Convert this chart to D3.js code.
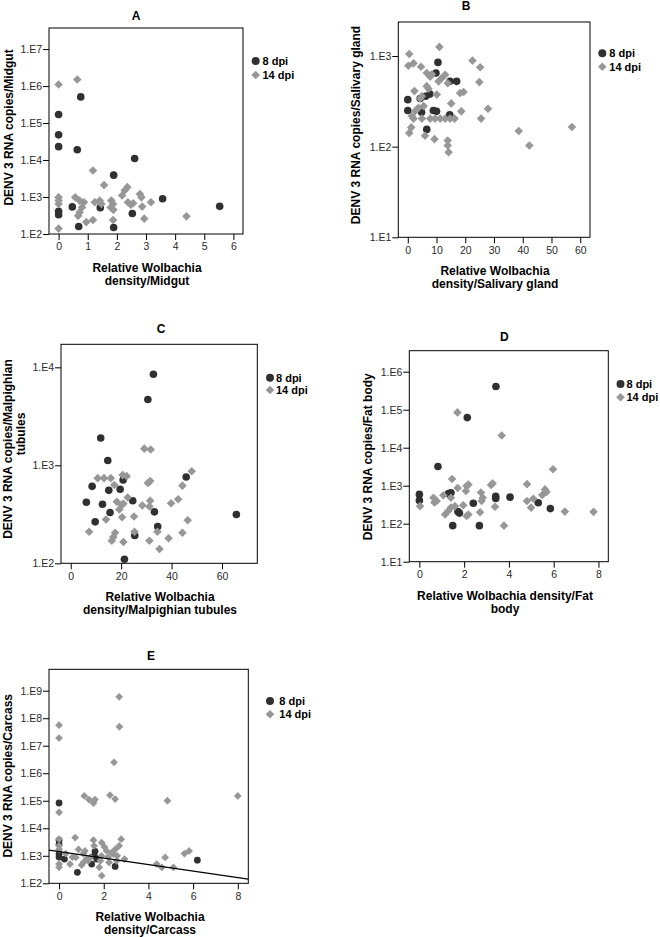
<!DOCTYPE html>
<html><head><meta charset="utf-8">
<script src="https://cdn.jsdelivr.net/npm/d3@7"></script>
<style>
body{margin:0;background:#fff}
svg{display:block}
text{font-family:'Liberation Sans',Arial,sans-serif}
</style>
</head><body>
<svg id="chart" width="660" height="937"></svg>
<script>
// ---------------- DATA ----------------
const seriesNames = ["8 dpi", "14 dpi"];

// Panel A – Midgut: [relative Wolbachia density, DENV3 RNA copies]
const A_8dpi = [[0,1.7e5],[0.76,5.1e5],[0,4.8e4],[0,2.3e4],[0.64,1.9e4],[2.61,1.1e4],[1.89,3900],[3.57,900],
  [5.53,560],[0.47,540],[1.43,515],[0,410],[0,330],[2.53,360],[0.69,160],[1.89,150]];
const A_14dpi = [[0,1.1e6],[0.64,1.5e6],[1.18,5200],[1.56,2100],[0,980],[0,800],[0,650],[0,140],[0.57,980],
  [0.72,800],[0.87,720],[0.80,520],[0.72,390],[0.67,310],[0.95,210],[1.18,240],[1.24,720],[1.41,800],[1.47,650],
  [1.81,800],[1.87,650],[1.79,520],[2.27,1500],[2.36,1850],[2.18,1100],[2.38,720],[2.48,620],[2.56,680],
  [2.79,1200],[2.84,980],[2.87,550],[3.17,720],[2.94,260],[1.87,240],[4.39,300],[1.88,450]];
const A_xTicks = [0,1,2,3,4,5,6];
const A_yTicks = [1e2,1e3,1e4,1e5,1e6,1e7];

// Panel B – Salivary gland
const B_8dpi = [[10.5,850],[9.8,650],[17,525],[14.7,525],[0,330],[0,250],[4.3,340],[7.7,380],[4.8,240],
  [8.9,250],[10,245],[6.6,155],[14.6,225],[6.2,360]];
const B_14dpi = [[11.0,1260],[0.5,1050],[0.2,780],[2.0,830],[4.6,760],[22.5,890],[25.2,750],[6.6,650],[7.8,590],
  [8.4,630],[13.0,620],[11.8,570],[10.7,525],[13.9,500],[24.9,515],[2.3,410],[6.6,465],[7.2,435],[10.1,375],
  [18.2,390],[19.4,400],[4.9,360],[4.3,340],[15.1,300],[18.6,245],[27.9,262],[25.5,204],[1.4,218],[2.6,247],
  [3.7,268],[5.5,280],[2.0,204],[4.9,204],[7.8,204],[9.5,204],[11.3,204],[13.0,204],[14.7,204],[16.3,204],
  [1.2,163],[0.5,141],[6.0,132],[9.3,121],[13.9,117],[13.9,103],[14.2,87],[38.6,149],[42.3,103],[57.1,165]];
const B_xTicks = [0,10,20,30,40,50,60];
const B_yTicks = [1e1,1e2,1e3];

// Panel C – Malpighian tubules
const C_8dpi = [[32.8,8500],[30.6,4700],[11.9,1900],[14.7,1120],[20.8,710],[45.8,760],[8.5,610],[15.1,555],
  [19.6,570],[6.2,420],[12.6,400],[24.6,435],[15.6,330],[33.2,335],[9.7,265],[65.7,315],[34.5,237],[25.4,192],[21.3,110]];
const C_14dpi = [[29.2,1480],[31.7,1450],[10.7,740],[13.2,740],[15.9,740],[20.6,795],[22.2,775],[17.3,630],
  [30.6,660],[31.5,690],[48,870],[44.3,620],[22.6,470],[18.3,425],[20.2,395],[19.3,355],[20.9,405],[28.4,390],
  [31.5,435],[31.2,380],[39.8,410],[42.6,450],[14,280],[20.4,295],[25.1,300],[7.3,210],[17.6,205],[16.9,185],
  [16.3,170],[20.9,165],[25.3,210],[31.2,170],[34.4,210],[38.8,180],[35.2,140],[44.3,205],[46.4,275]];
const C_xTicks = [0,20,40,60];
const C_yTicks = [1e2,1e3,1e4];

// Panel D – Fat body
const D_8dpi = [[3.42,4.1e5],[2.14,6.2e4],[0.83,3200],[0,590],[0,410],[1.41,650],[1.30,620],[3.41,530],[3.41,460],
  [4.05,500],[2.41,345],[5.31,355],[5.85,250],[1.79,190],[1.72,210],[1.49,89],[2.68,89]];
const D_14dpi = [[1.70,8.5e4],[3.68,2.1e4],[5.97,2700],[1.46,1500],[1.71,870],[2.11,980],[2.19,1070],[3.27,1150],
  [3.20,1040],[4.81,1100],[5.61,800],[5.68,680],[5.49,570],[2.75,660],[2.83,480],[2.08,725],[0.63,480],[0.77,395],
  [0.67,360],[1.07,560],[1.41,480],[0.03,290],[2.78,395],[1.59,290],[1.96,305],[1.41,265],[1.15,175],[1.29,215],
  [2.19,175],[2.11,160],[2.71,200],[3.38,280],[4.81,395],[5.09,455],[4.99,265],[6.50,208],[7.78,205],[3.78,89]];
const D_xTicks = [0,2,4,6,8];
const D_yTicks = [1e1,1e2,1e3,1e4,1e5,1e6];

// Panel E – Carcass
const E_8dpi = [[0,8.3e4],[0,3700],[0,2600],[0,1150],[0,900],[0.24,760],[0.82,250],[1.61,1450],[1.69,760],
  [1.46,500],[1.58,1000],[2.51,410],[6.19,690]];
const E_14dpi = [[2.69,6e8],[0,5.6e7],[2.70,4.9e7],[0,1.9e7],[2.46,2.5e6],[1.13,1.5e5],[1.34,1.1e5],[1.54,8.3e4],
  [1.61,1.1e5],[2.28,1.6e5],[2.51,1.15e5],[4.85,1.0e5],[8.0,1.5e5],[0,3.8e4],[0,4000],[0,2300],[0,1700],[0,500],
  [0,380],[0.72,4600],[0.49,500],[0.87,1700],[0.75,870],[1.09,1200],[1.16,1500],[1.54,3700],[1.57,2300],[1.31,660],
  [1.09,575],[1.91,3000],[2.03,2100],[2.13,1500],[2.36,1300],[1.9,1000],[1.85,660],[1.8,380],[1.91,190],[2.78,4000],
  [2.69,2300],[2.51,1700],[2.43,1150],[2.24,575],[2.58,660],[2.93,760],[4.75,870],[4.37,500],[4.6,380],[5.12,380],
  [5.61,1200],[5.82,1500],[1.01,460],[0.3,1200],[0.6,900],[1.4,900],[2.2,900],[2.6,1000],[1.25,800]];
const E_xTicks = [0,2,4,6,8];
const E_yTicks = [1e2,1e3,1e4,1e5,1e6,1e7,1e8,1e9];
// fit line: log10(copies) = intercept + slope * density
const E_fitLine = [3.156, -0.119];

// ---------------- LAYOUT ----------------
const panels = [
  {title:"A", d8:A_8dpi, d14:A_14dpi, xt:A_xTicks, yt:A_yTicks, box:[49,28,243,234], xDom:[-0.33,6.33], yTop:7.57,
   tPos:[136,19.5], yTitle:[["DENV 3 RNA copies/Midgut",12.5,127.5]], xTitle:["Relative Wolbachia","density/Midgut"], xCx:147,
   leg:[255.7,61,75,262.5], r:3.8},
  {title:"B", d8:B_8dpi, d14:B_14dpi, xt:B_xTicks, yt:B_yTicks, box:[398.3,22,590,237.3], xDom:[-3.3,63.4], yTop:3.375,
   tPos:[466,10], yTitle:[["DENV 3 RNA copies/Salivary gland",360,125]], xTitle:["Relative Wolbachia","density/Salivary gland"], xCx:495,
   leg:[602.3,53.3,66.7,609.3], r:3.8},
  {title:"C", d8:C_8dpi, d14:C_14dpi, xt:C_xTicks, yt:C_yTicks, box:[61,344.3,257.3,563.3], xDom:[-3.85,74], yTop:4.235,
   tPos:[161,332.7], yTitle:[["DENV 3 RNA copies/Malpighian",11.5,449],["tubules",25,434]], xTitle:["Relative Wolbachia","density/Malpighian tubules"], xCx:160,
   leg:[270,377.7,390,276], r:3.8},
  {title:"D", d8:D_8dpi, d14:D_14dpi, xt:D_xTicks, yt:D_yTicks, box:[409.3,350.7,608.3,561.7], xDom:[-0.45,8.44], yTop:6.553,
   tPos:[504.3,340.7], yTitle:[["DENV 3 RNA copies/Fat body",371.5,456.7]], xTitle:["Relative Wolbachia density/Fat","body"], xCx:505,
   leg:[620.5,384,397.3,626.5], r:3.8},
  {title:"E", d8:E_8dpi, d14:E_14dpi, xt:E_xTicks, yt:E_yTicks, box:[49,669.3,248.3,883.3], xDom:[-0.45,8.47], yTop:9.778,
   tPos:[151,660.3], yTitle:[["DENV 3 RNA copies/Carcass",12,775.8]], xTitle:["Relative Wolbachia","density/Carcass"], xCx:150,
   leg:[270,701,714.3,279.3], r:3.4, fit:E_fitLine}
];

const COL8 = "#303030", COL14 = "#979797";
const svg = d3.select("#chart");
const diamond = s => `M0,${-s}L${s},0L0,${s}L${-s},0Z`;
const fmtY = v => "1.E" + Math.round(Math.log10(v));

panels.forEach(p => {
  const [x0,y0,x1,y1] = p.box;
  const g = svg.append("g");
  const x = d3.scaleLinear().domain(p.xDom).range([x0,x1]);
  const yMin = p.yt[0];
  const y = d3.scaleLog().domain([yMin, Math.pow(10,p.yTop)]).range([y1,y0]);

  // axes
  const ax = g.append("g").attr("transform",`translate(0,${y1})`)
    .call(d3.axisBottom(x).tickValues(p.xt).tickFormat(d3.format("d")).tickSize(6).tickSizeOuter(0).tickPadding(3));
  const ay = g.append("g").attr("transform",`translate(${x0},0)`)
    .call(d3.axisLeft(y).tickValues(p.yt).tickFormat(fmtY).tickSize(6).tickSizeOuter(0).tickPadding(1));
  [ax,ay].forEach(a => {
    a.select(".domain").remove();
    a.selectAll("line").attr("stroke","#000");
    a.selectAll("text").attr("font-size","10.5px").attr("fill","#2a2a2a").attr("font-family","'Liberation Sans',Arial,sans-serif");
  });

  // frame
  g.append("rect").attr("x",x0).attr("y",y0).attr("width",x1-x0).attr("height",y1-y0)
    .attr("fill","none").attr("stroke","#000").attr("stroke-width",1);

  // points: 8 dpi circles then 14 dpi diamonds
  g.append("g").selectAll("circle").data(p.d8).join("circle")
    .attr("cx",d=>x(d[0])).attr("cy",d=>y(d[1])).attr("r",p.r).attr("fill",COL8);
  g.append("g").selectAll("path").data(p.d14).join("path")
    .attr("transform",d=>`translate(${x(d[0])},${y(d[1])})`).attr("d",diamond(p.r+0.5)).attr("fill",COL14);

  // fit line
  if (p.fit) {
    const [b0,b1] = p.fit;
    const line = d3.line().x(d=>x(d)).y(d=>y(Math.pow(10,b0+b1*d)));
    g.append("path").attr("d",line(p.xDom)).attr("fill","none").attr("stroke","#000").attr("stroke-width",1.3);
  }

  // title
  g.append("text").attr("x",p.tPos[0]).attr("y",p.tPos[1]).attr("text-anchor","middle")
    .attr("font-size","12px").attr("font-weight","bold").text(p.title);

  // y title
  p.yTitle.forEach(([t,tx,cy]) => {
    g.append("text").attr("transform",`translate(${tx},${cy}) rotate(-90)`).attr("text-anchor","middle")
      .attr("font-size","12px").attr("font-weight","bold").text(t);
  });
  // x title
  p.xTitle.forEach((t,i) => {
    g.append("text").attr("x",p.xCx).attr("y",y1+37.8+13.2*i).attr("text-anchor","middle")
      .attr("font-size","12px").attr("font-weight","bold").text(t);
  });

  // legend
  const [lx,ly1,ly2,tx] = p.leg;
  g.append("circle").attr("cx",lx).attr("cy",ly1).attr("r",4).attr("fill",COL8);
  g.append("path").attr("transform",`translate(${lx},${ly2})`).attr("d",diamond(4.3)).attr("fill",COL14);
  [[seriesNames[0],ly1],[seriesNames[1],ly2]].forEach(([t,ly]) => {
    g.append("text").attr("x",tx).attr("y",ly+4).attr("font-size","11px").attr("font-weight","bold").text(t);
  });
});
</script>
</body></html>
